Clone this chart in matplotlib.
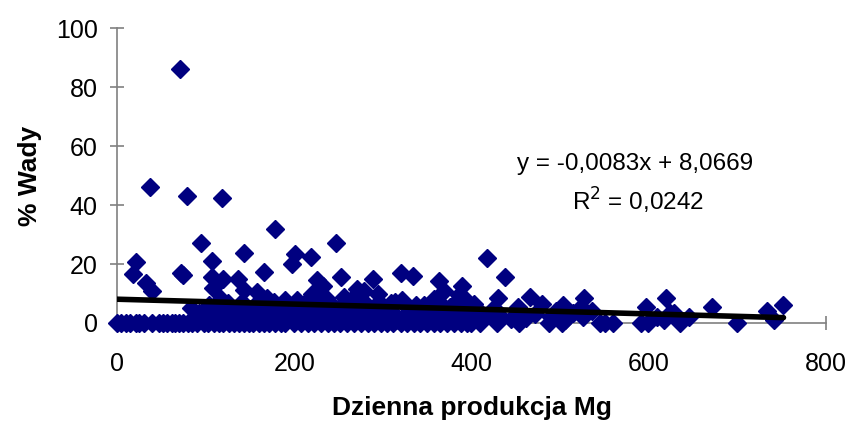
import numpy as np
import matplotlib.pyplot as plt

plt.rcParams['font.family'] = ['Liberation Sans', 'DejaVu Sans']

# zerowe wady
x_zero = [0, 5, 10, 15, 21, 25, 30, 40, 47, 52, 57, 62, 66, 70, 75, 80, 85, 90,
          98, 103, 109, 115, 120, 126, 132, 138, 143, 149, 154, 160, 166, 172,
          178, 185, 190, 200, 208, 215, 222, 230, 238, 245, 252, 260, 268, 275,
          283, 290, 298, 305, 312, 320, 327, 335, 342, 350, 358, 365, 372, 380,
          388, 395, 400, 410, 429, 454, 487, 502, 545, 551, 560, 591, 599, 635, 699]

# punkty powyzej zera
x_pts = [71, 37, 79, 119, 178, 95, 247, 143, 107, 201, 198, 219, 22, 18, 74, 72,
         166, 107, 120, 137, 253, 33, 39, 143, 108, 226, 233, 220, 256, 158, 169,
         83, 102, 113, 125, 162, 170, 320, 334, 289, 294, 271, 279, 236, 266, 322,
         314, 309, 177, 190, 203, 213, 417, 438, 363, 389, 369, 358, 386, 393,
         430, 466, 480, 503, 346, 403, 453, 461,
         88, 92, 100, 104, 108, 112, 117, 123, 128, 131, 135, 138, 141, 145, 148,
         150, 153, 156, 160, 164, 167, 172, 175, 180, 182, 185, 187, 192, 195,
         200, 205, 208, 210, 216, 219, 222, 225, 228, 231, 238, 240, 243, 246,
         249, 252, 255, 258, 261, 264, 269, 272, 275, 278, 281, 284, 287, 290,
         293, 296, 299, 302, 305, 312, 317, 325, 328, 331, 337, 340, 343, 349,
         352, 355, 361, 364, 367, 370, 373, 376, 379, 382, 388, 391, 396, 399,
         405, 408, 412, 420, 425, 433, 445, 472, 490, 495, 506, 508, 515, 523,
         526, 527, 536, 597, 609, 617, 620, 624, 628, 632, 645, 671, 733, 741, 752]
y_pts = [86, 46, 43, 42.3, 32, 27, 27, 23.6, 21, 23.3, 20, 22.3, 20.8, 16.5, 16.2, 17,
         17.4, 15.7, 14.9, 15, 15.7, 13.4, 10.8, 11.2, 11.8, 14.6, 12.6, 10, 8.9, 10.6, 8.4,
         5, 4.4, 5.5, 6.7, 5.5, 7.8, 17, 16, 14.8, 9.8, 11.4, 10.9, 8.4, 8.4, 7.8,
         7.2, 6.7, 7.2, 7.8, 7.8, 7.2, 22, 15.5, 14.4, 12.5, 10.8, 8.3, 9.5, 8.3,
         8.4, 8.7, 6.4, 6.1, 6.1, 6.4, 5.3, 1.6,
         2, 3.5, 1.5, 6, 3, 2.5, 8, 4, 2, 3, 5, 1.2, 7, 2.5, 4.5,
         1, 3, 6, 2, 1.5, 3.5, 2.5, 4.2, 1, 3, 5, 2, 1, 4,
         6, 1.5, 3.5, 5, 2, 4, 1, 6, 3, 1.8, 4.5, 2.5, 6, 1,
         3.5, 5.5, 2, 7, 4, 1, 3, 5.5, 1.5, 4, 6.5, 2.5, 1, 5,
         3, 7, 1.5, 4, 2, 3.5, 1, 2.5, 5, 1, 6, 2, 4.5, 1.5,
         3, 5, 2, 4, 6, 1.2, 3.5, 5.5, 2.5, 7, 4, 1.5, 3, 5.5,
         2, 4, 1, 3, 5, 2, 1.5, 3, 2, 4, 1, 2.7, 3.5, 5.5,
         2.1, 8.6, 4, 5.5, 1.9, 1, 8.6, 3.3, 3.3, 2.1, 2, 5.5, 4.2, 1, 6.1]

x = np.array(x_zero + x_pts, dtype=float)
y = np.array([0] * len(x_zero) + y_pts, dtype=float)

a, b = -0.0083, 8.0669

fig = plt.figure(figsize=(8.5, 4.25), dpi=100)
ax = fig.add_axes([0.1376, 0.24, 0.8342, 0.694])

ax.plot(x, y, 'D', color='#000080', ms=9, mec='#000080', ls='none',
        zorder=2, clip_on=False)
xl = np.array([0, x.max()])
ax.plot(xl, a * xl + b, color='black', lw=4, zorder=3, solid_capstyle='round')

ax.set_xlim(0, 800)
ax.set_ylim(0, 100)
ax.set_xticks(np.arange(0, 801, 200))
ax.set_yticks(np.arange(0, 101, 20))
for s in ['top', 'right']:
    ax.spines[s].set_visible(False)
for s in ['left', 'bottom']:
    ax.spines[s].set_color('#808080')
    ax.spines[s].set_linewidth(1.2)
    ax.spines[s].set_zorder(1)
ax.tick_params(direction='inout', length=10, width=1.2, color='#808080',
               labelsize=18, pad=9)
ax.tick_params(axis='x', pad=16)
ax.set_xlabel('Dzienna produkcja Mg', fontsize=19, fontweight='bold', labelpad=14)
ax.set_ylabel('% Wady', fontsize=19, fontweight='bold', labelpad=10)

ax.text(585, 54, 'y = -0,0083x + 8,0669', fontsize=17.5, ha='center', va='center')
ax.text(588, 41.5, 'R$^2$ = 0,0242', fontsize=17.5, ha='center', va='center')

fig.savefig('out.png', dpi=100)
